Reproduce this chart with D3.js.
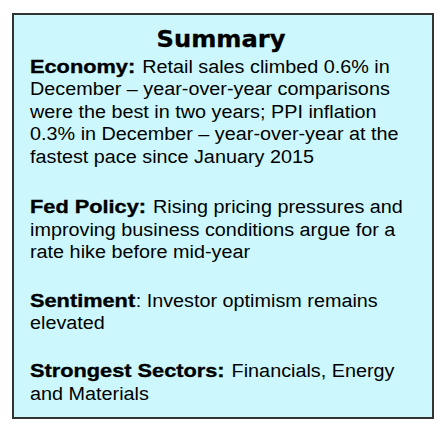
<!DOCTYPE html>
<html><head><meta charset="utf-8">
<script src="https://cdn.jsdelivr.net/npm/d3@7"></script>
<style>html,body{margin:0;padding:0;background:#fff;}</style>
</head><body>
<svg id="c" width="445" height="431"></svg>
<script>
const title = "Summary";
const headings = ["Economy:", "Fed Policy:", "Sentiment", "Strongest Sectors:"];
const bodies = [
  ["Retail sales climbed 0.6% in", "December – year-over-year comparisons", "were the best in two years; PPI inflation", "0.3% in December – year-over-year at the", "fastest pace since January 2015"],
  ["Rising pricing pressures and", "improving business conditions argue for a", "rate hike before mid-year"],
  [": Investor optimism remains", "elevated"],
  ["Financials, Energy", "and Materials"]
];
const firstBaselines = [72.5, 213.3, 306.7, 377.3];

const svg = d3.select("#c");
svg.append("rect").attr("x", 13).attr("y", 14).attr("width", 420).attr("height", 404)
  .attr("fill", "#ccf8fd").attr("stroke", "#333").attr("stroke-width", 2);

svg.append("text").attr("transform", "translate(221,46.6) scale(1.05,1)").attr("text-anchor", "middle")
  .attr("font-family", "DejaVu Sans").attr("font-weight", "bold").attr("font-size", 23)
  .attr("fill", "#000").attr("stroke", "#000").attr("stroke-width", 0.3).text(title);

const lh = 22.5, x0 = 30, fs = 18.6, sxr = 1.065, sxb = 1.17;
const g = svg.append("g").attr("font-family", "Liberation Sans, Arial, sans-serif").attr("font-size", fs).attr("fill", "#000");
headings.forEach((h, i) => {
  const y = firstBaselines[i];
  const ht = g.append("text").attr("transform", `translate(${x0},${y}) scale(${sxb},1)`)
    .attr("font-weight", "bold").attr("stroke", "#000").attr("stroke-width", 0.35).text(h);
  const hw = ht.node().getComputedTextLength() * sxb;
  const first = bodies[i][0];
  const gap = first.startsWith(":") ? 0.5 : 7;
  g.append("text").attr("transform", `translate(${x0 + hw + gap},${y}) scale(${sxr},1)`).text(first);
  bodies[i].slice(1).forEach((line, j) => {
    g.append("text").attr("transform", `translate(${x0},${y + lh * (j + 1)}) scale(${sxr},1)`).text(line);
  });
});
</script>
</body></html>
